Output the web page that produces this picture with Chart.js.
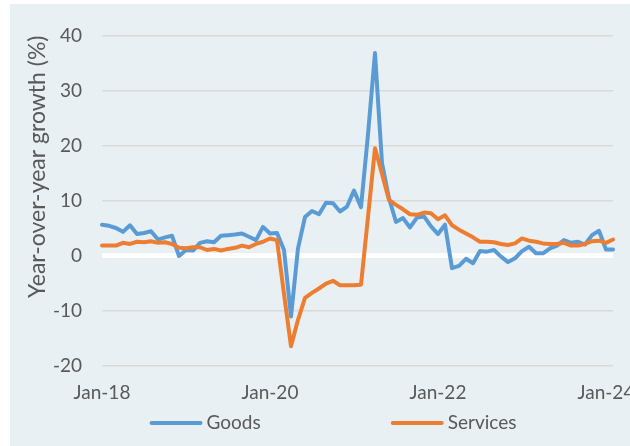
<!DOCTYPE html>
<html><head><meta charset="utf-8">
<script src="https://cdn.jsdelivr.net/npm/chart.js@4.4.1/dist/chart.umd.min.js"></script>
<style>
html,body{margin:0;padding:0;background:#ffffff;}
#wrap{position:absolute;left:10px;top:4px;width:620px;height:442px;background:#e8f0f3;}
canvas{display:block;}
</style></head><body>
<div id="wrap"><canvas id="c" width="620" height="442"></canvas></div>
<script>
const categories = [
 'Jan-18','Feb-18','Mar-18','Apr-18','May-18','Jun-18','Jul-18','Aug-18','Sep-18','Oct-18','Nov-18','Dec-18',
 'Jan-19','Feb-19','Mar-19','Apr-19','May-19','Jun-19','Jul-19','Aug-19','Sep-19','Oct-19','Nov-19','Dec-19',
 'Jan-20','Feb-20','Mar-20','Apr-20','May-20','Jun-20','Jul-20','Aug-20','Sep-20','Oct-20','Nov-20','Dec-20',
 'Jan-21','Feb-21','Mar-21','Apr-21','May-21','Jun-21','Jul-21','Aug-21','Sep-21','Oct-21','Nov-21','Dec-21',
 'Jan-22','Feb-22','Mar-22','Apr-22','May-22','Jun-22','Jul-22','Aug-22','Sep-22','Oct-22','Nov-22','Dec-22',
 'Jan-23','Feb-23','Mar-23','Apr-23','May-23','Jun-23','Jul-23','Aug-23','Sep-23','Oct-23','Nov-23','Dec-23',
 'Jan-24','Feb-24'
];
const goods = [
 5.6, 5.4, 5.0, 4.3, 5.5, 3.9, 4.1, 4.4, 2.9, 3.3, 3.6, -0.1,
 1.0, 0.9, 2.3, 2.6, 2.4, 3.6, 3.7, 3.8, 4.0, 3.4, 2.8, 5.2,
 4.0, 4.1, 1.0, -11.1, 1.3, 7.0, 8.1, 7.5, 9.6, 9.5, 8.0, 8.9,
 11.8, 8.8, 22.0, 36.8, 16.8, 10.4, 6.1, 6.8, 5.1, 6.9, 7.1, 5.3,
 3.9, 5.6, -2.3, -1.9, -0.6, -1.4, 0.8, 0.7, 1.0, -0.2, -1.2, -0.5,
 0.8, 1.6, 0.4, 0.4, 1.3, 1.8, 2.8, 2.3, 2.5, 2.0, 3.7, 4.5,
 1.1, 1.1
];
const services = [
 1.8, 1.8, 1.8, 2.3, 2.1, 2.5, 2.4, 2.6, 2.3, 2.4, 2.1, 1.4,
 1.3, 1.5, 1.5, 1.0, 1.2, 0.9, 1.2, 1.4, 1.8, 1.5, 2.1, 2.5,
 3.1, 2.8, -7.0, -16.5, -11.7, -7.7, -6.8, -6.0, -5.1, -4.6, -5.4, -5.4,
 -5.4, -5.3, 7.0, 19.5, 14.8, 10.1, 9.2, 8.4, 7.5, 7.4, 7.8, 7.7,
 6.6, 7.3, 5.5, 4.7, 4.0, 3.3, 2.5, 2.5, 2.4, 2.1, 1.9, 2.2,
 3.1, 2.7, 2.5, 2.2, 2.1, 2.1, 2.3, 1.8, 1.8, 2.1, 2.6, 2.7,
 2.3, 2.9
];
const tickLabels = ['Jan-18','Jan-20','Jan-22','Jan-24'];
const seriesNames = ['Goods','Services'];
const seriesColors = ['#5b9bd5','#ed7d31'];
const yTitle = 'Year-over-year growth (%)';

const FONT = {family:'Lato', size:19};
const TITLE_FONT = {family:'Lato', size:23};
const TXT = '#595959';

const bottomLegend = {
  id:'bottomLegend',
  afterDraw(chart){
    const ctx = chart.ctx;
    const ds = chart.data.datasets;
    const lineLen = 53, textGap = 4, itemGap = 130, cy = 419, centerX = 323;
    ctx.save();
    ctx.font = FONT.size + 'px ' + FONT.family;
    const widths = ds.map(d => ctx.measureText(d.label).width);
    let total = 0;
    widths.forEach((w,i)=>{ total += lineLen + textGap + w + (i < widths.length-1 ? itemGap : 0); });
    let x = centerX - total/2;
    ds.forEach((d,i)=>{
      ctx.strokeStyle = d.borderColor;
      ctx.lineWidth = 4;
      ctx.lineCap = 'round';
      ctx.beginPath();
      ctx.moveTo(x + 2, cy);
      ctx.lineTo(x + lineLen - 2, cy);
      ctx.stroke();
      ctx.fillStyle = TXT;
      ctx.textAlign = 'left';
      ctx.textBaseline = 'middle';
      ctx.fillText(d.label, x + lineLen + textGap, cy);
      x += lineLen + textGap + widths[i] + itemGap;
    });
    ctx.restore();
  }
};

new Chart(document.getElementById('c'), {
  type:'line',
  data:{
    labels: categories,
    datasets:[
      {label:seriesNames[0], data:goods, borderColor:seriesColors[0], backgroundColor:seriesColors[0], borderWidth:4, pointRadius:0, tension:0, borderJoinStyle:'round', borderCapStyle:'round', order:1},
      {label:seriesNames[1], data:services, borderColor:seriesColors[1], backgroundColor:seriesColors[1], borderWidth:4, pointRadius:0, tension:0, borderJoinStyle:'round', borderCapStyle:'round', order:0}
    ]
  },
  options:{
    responsive:false, animation:false, devicePixelRatio:1,
    layout:{padding:{left:0, right:17, top:31.5, bottom:30.5}},
    plugins:{legend:{display:false}, tooltip:{enabled:false}},
    scales:{
      x:{
        type:'category', offset:false,
        grid:{display:false, drawTicks:false}, border:{display:false},
        ticks:{autoSkip:false, maxRotation:0, minRotation:0, padding:16, font:FONT, color:TXT,
          callback:function(v,i){ const l = categories[i]; return tickLabels.includes(l) ? l : ''; }},
        afterFit:function(s){ s.height = 50; s.paddingLeft = 0; s.paddingRight = 0; }
      },
      y:{
        min:-20, max:40,
        ticks:{stepSize:10, padding:20, font:FONT, color:TXT},
        grid:{drawTicks:false, color:c => c.tick && c.tick.value === 0 ? '#ffffff' : '#d9d9d9', lineWidth:c => c.tick && c.tick.value === 0 ? 5 : 1.5},
        border:{display:false},
        title:{display:true, text:yTitle, align:'end', font:TITLE_FONT, color:TXT, padding:{top:14.2, bottom:0}},
        afterFit:function(s){ s.width = 92; s.paddingTop = 0; s.paddingBottom = 0; }
      }
    }
  },
  plugins:[bottomLegend]
});
</script>
</body></html>
